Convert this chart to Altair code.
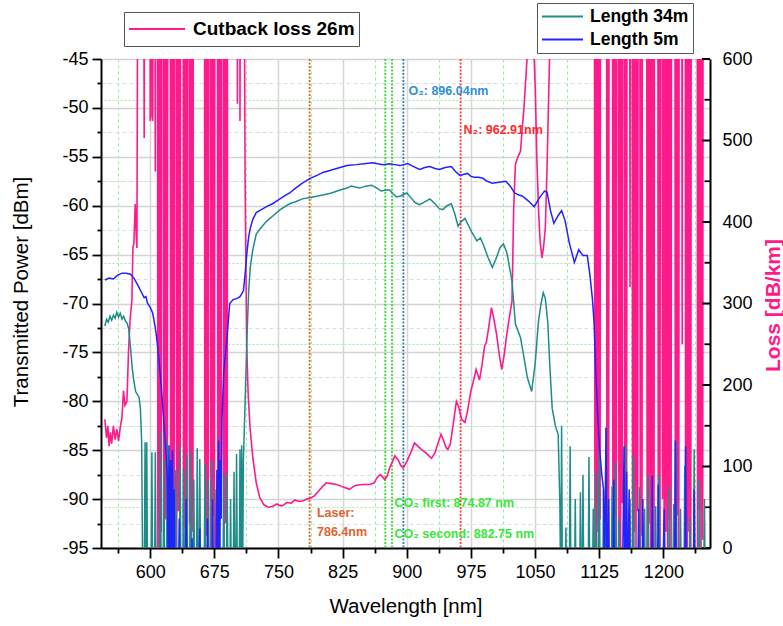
import altair as alt
import pandas as pd

FONT = "Liberation Sans, Arial, Helvetica, sans-serif"
PINK = "#ff1a8c"
TEAL = "#1e8c88"
BLUE = "#2222ff"

TRANS_SERIES = ["Length 34m", "Length 5m"]
LOSS_SERIES = ["Cutback loss 26m"]

# ---------------- Length 5m (blue), dBm ----------------
B5_A_WL = [547, 552, 557, 562, 567, 572, 577, 581, 586, 590, 593, 595, 597, 600, 603, 606, 608, 611, 613, 615, 617, 619]
B5_A_DB = [-67.6, -67.4, -67.5, -67.1, -66.9, -66.9, -67.0, -67.4, -68.2, -68.9, -69.4, -69.3, -70.0, -70.4, -71.0, -72.5, -73.8, -76.5, -78.5, -81.0, -83.4, -86.0]

B5_N1_WL = [620, 621, 622, 623, 624, 625, 626, 627, 628, 629, 633, 634, 635, 641, 642, 643, 648, 649, 650, 657, 658, 659,
            666, 667, 668, 672, 673, 674, 677, 678, 679, 680, 681, 682, 683, 684]
B5_N1_DB = [-88, -96, -84.5, -97, -86, -98, -85, -99, -89, -100, -100, -92, -100, -100, -90, -100, -100, -94, -100, -100, -93, -100,
            -100, -92, -100, -100, -90, -100, -100, -87, -100, -84, -98, -86, -92, -81.7]

B5_C_WL = [686, 689.5, 693, 697, 701, 705, 709, 711, 713, 715, 717, 720, 724, 730, 736, 743, 750, 757, 763, 770,
           778, 787, 795, 802, 810, 822, 830, 841, 850, 860, 866, 872, 880, 886, 892, 901, 908, 915, 921, 927,
           933, 938, 945, 952, 957, 962, 966, 971, 975, 979, 984, 989, 994, 1000, 1008, 1016, 1021, 1026, 1031, 1035,
           1042, 1049, 1055, 1061, 1064, 1068, 1072, 1077, 1081, 1085, 1090, 1096, 1101, 1106, 1111, 1114, 1117, 1119, 1121, 1123,
           1125, 1128, 1130]
B5_C_DB = [-77.0, -73.8, -70.0, -69.6, -69.5, -69.3, -68.7, -67.0, -64.9, -63.3, -62.3, -61.4, -60.7, -60.4, -60.1, -59.8, -59.4, -59.0, -58.7, -58.2,
           -57.7, -57.2, -56.9, -56.6, -56.4, -56.1, -55.9, -55.8, -55.7, -55.6, -55.7, -55.8, -55.7, -55.8, -55.9, -55.7, -56.0, -56.3, -56.1, -56.0,
           -56.2, -56.3, -56.1, -56.0, -56.5, -56.9, -56.8, -56.7, -57.0, -57.1, -57.1, -57.2, -57.5, -57.7, -57.6, -57.5, -58.0, -58.7, -58.9, -59.0,
           -59.5, -60.1, -59.2, -58.5, -58.6, -60.5, -61.8, -61.0, -60.5, -61.5, -63.8, -65.8, -64.5, -65.1, -65.1, -67.0, -69.5, -72.0, -77.0, -81.0,
           -84.4, -87.5, -89.0]

B5_N2_WL = [1131, 1133, 1134, 1136, 1137, 1141, 1142, 1143, 1152, 1154, 1155, 1157, 1158, 1160, 1161, 1170, 1171, 1172, 1175, 1176,
            1177, 1186, 1187, 1188, 1193, 1194, 1195, 1199, 1201, 1202, 1213, 1214, 1215, 1225, 1226, 1227, 1235, 1236, 1237, 1252]
B5_N2_DB = [-98, -82.7, -99, -90, -100, -100, -88, -100, -100, -84.6, -100, -87.2, -100, -89, -100, -100, -91, -100, -100, -90,
            -100, -100, -87.6, -100, -100, -88.5, -100, -100, -91, -100, -100, -84, -100, -100, -84.6, -100, -100, -89, -100, -100]

# ---------------- Length 34m (teal), dBm ----------------
T34_A_WL = [547, 549, 551, 553, 555, 557, 559, 561, 563, 565, 567, 569, 571, 573, 575, 577, 579, 581, 583, 585, 587, 588.5, 590, 591, 592]
T34_A_DB = [-72.3, -71.6, -71.9, -71.3, -71.7, -71.2, -71.5, -70.9, -71.4, -71.0, -71.6, -71.3, -71.8, -72.0, -72.6, -74.5, -76.6, -78.0, -79.0, -79.3,
            -79.6, -80.7, -84.0, -95.0, -100]

T34_N1_WL = [593, 594, 595, 596, 597,
             601, 602, 603, 605, 606, 607,
             611, 612, 613, 615, 616, 617,
             619, 620, 621, 622, 623,
             625, 626, 627, 629, 630, 631,
             634, 635, 636, 638, 639, 640,
             642, 643, 644, 646, 647, 648,
             650, 651, 652, 654, 655, 656, 657, 658, 659,
             663, 664, 665, 667, 668, 669,
             671, 672, 673, 676, 677, 678,
             680, 681, 682, 685, 686, 687,
             689, 690, 691, 693, 694, 695,
             697, 698, 699, 700, 701, 702,
             704, 705, 706, 707, 708, 709, 711, 713]
T34_N1_DB = [-100, -84.2, -100, -84.2, -100,
             -100, -85.2, -100, -100, -85.2, -100,
             -100, -83.0, -100, -100, -86.0, -100,
             -100, -84.0, -100, -88.0, -100,
             -100, -86.5, -100, -100, -87.0, -100,
             -100, -84.6, -100, -100, -87.0, -100,
             -100, -85.5, -100, -100, -85.0, -100,
             -100, -88.0, -100, -100, -84.8, -100, -100, -85.9, -100,
             -100, -86.4, -100, -100, -88.0, -100,
             -100, -86.0, -100, -100, -89.0, -100,
             -100, -87.0, -100, -100, -87.4, -100,
             -100, -87.4, -100, -100, -90.0, -100,
             -100, -87.2, -100, -100, -85.4, -100,
             -100, -84.9, -100, -84.5, -99.0, -86.0, -80.0, -73.8]

T34_C_WL = [715, 717, 720, 724, 730, 736, 744, 752, 763, 770, 778, 790, 802, 812, 822, 830, 835, 845, 852, 859,
            865, 870, 876, 880, 884, 888, 893, 900, 905, 910, 915, 921, 927, 933, 938, 942, 947, 952, 956, 960,
            964, 968, 972, 976, 982, 986, 990, 995, 1000, 1004, 1009, 1013, 1017, 1023, 1027, 1033, 1037, 1041, 1046, 1050,
            1054, 1057, 1059.6, 1062, 1065, 1067, 1070, 1073.7, 1077, 1079, 1080]
T34_C_DB = [-69.0, -66.3, -64.5, -62.9, -62.2, -61.6, -61.0, -60.4, -59.8, -59.6, -59.3, -59.1, -58.9, -58.7, -58.4, -58.2, -58.0, -58.2, -58.0, -57.9,
            -58.2, -58.5, -58.4, -58.4, -58.8, -59.1, -59.0, -58.7, -59.2, -59.7, -59.9, -59.6, -59.3, -59.8, -60.3, -60.4, -60.0, -59.8, -60.8, -62.1,
            -61.6, -61.3, -62.0, -62.7, -63.6, -63.3, -64.1, -65.3, -66.3, -65.5, -64.3, -63.9, -64.8, -67.7, -72.1, -73.5, -75.5, -77.6, -79.0, -76.2,
            -71.8, -70.0, -68.9, -69.5, -72.1, -76.0, -80.7, -82.5, -83.4, -90.5, -100]

T34_N2_WL = [1081, 1082,
             1085, 1086, 1087, 1090, 1091, 1092,
             1096, 1097, 1098, 1102, 1103, 1104, 1105, 1106, 1107,
             1112, 1113, 1114, 1117, 1118, 1119, 1120, 1121, 1122,
             1124, 1125, 1126, 1129, 1130, 1131, 1132, 1133, 1134,
             1139, 1140, 1141, 1143, 1144, 1145, 1147, 1148, 1149,
             1155, 1156, 1157, 1160, 1161, 1162, 1164, 1165, 1166,
             1171, 1172, 1173, 1177, 1178, 1179, 1181, 1182, 1183,
             1186, 1187, 1188, 1190, 1191, 1192, 1194, 1195, 1196,
             1200, 1201, 1202, 1206, 1207, 1208, 1211, 1212, 1213, 1214, 1215, 1216,
             1219, 1220, 1221, 1224, 1225, 1226, 1230, 1231, 1232,
             1235, 1236, 1237, 1241, 1242, 1243, 1247, 1248, 1249, 1252]
T34_N2_DB = [-82.5, -100,
             -100, -92.9, -100, -100, -84.6, -100,
             -100, -90.0, -100, -100, -89.3, -100, -100, -87.5, -100,
             -100, -85.7, -100, -100, -91.0, -100, -100, -87.2, -100,
             -100, -84.6, -100, -100, -89.0, -100, -100, -82.7, -100,
             -100, -88.7, -100, -100, -86.2, -100, -100, -92.0, -100,
             -100, -84.5, -100, -100, -90.0, -100, -100, -85.6, -100,
             -100, -88.8, -100, -100, -91.0, -100, -100, -87.6, -100,
             -100, -89.5, -100, -100, -90.7, -100, -100, -87.6, -100,
             -100, -92.0, -100, -100, -88.7, -100, -100, -90.5, -100, -100, -84.3, -100,
             -100, -91.0, -100, -100, -86.6, -100, -100, -92.0, -100,
             -100, -84.9, -100, -100, -88.0, -100, -100, -90.0, -100, -100]

# ---------------- Cutback loss 26m (pink), dB/km ----------------
LOSS_A_WL = [547, 549, 550.5, 552, 553.5, 555, 557, 559, 561, 563, 565, 567, 568.8, 570.5, 572.8, 574.7, 576.5, 578.6, 579.8, 581,
             582.5, 583.5, 584.5, 586]
LOSS_A = [158, 135, 150, 125, 142, 128, 150, 133, 146, 131, 148, 160, 193, 175, 180, 242, 280, 303, 368, 375,
          422, 390, 368, 950]

LOSS_N1_START = 587  # one reading per nm from 587 nm to 710 nm
LOSS_N1 = [1400, 820, 1300, 1100, 1600, 900, 503, 1200, 1500, 980, 610, 1300, 1700, 524, 530, 1400, 524, 1250, 1000, 462, 1300, 1800,
           -60, 1500, -40, 1800, 20, 1400, 1600, -90, 1600, 35, 1900, -70, 1300, 1500, 1800, -20, 1700, 10, 1500, -50,
           1600, 1800, -80, 2000, 45, 1400, -30, 1700, 1500, 1900, 25, 1500, -60, 1800, -40, 1600, 1300, 30, 1900, -70,
           1500, 20, 1800, 1200,
           1500, 1700, 1300, 1800, 1600, 1400, 1900, 1500, 1700, 1300, 1600,
           -40, 1700, 15, 1500, -70, 1900, 1400, -30, 1600, 40, 1800, -60, 1300, 1500, 1700, 20, 1700, -80, 1500, 55,
           1800, 1600, -20, 1600, 30, 1400, -50, 1700,
           1500, 1800, 1400, 1600, 1900, 1300, 1700, 1500, 1600,
           1300, 545, 1200, 1500, 524, 1100, 1400, 1600, 1000, 700]

LOSS_C_WL = [711, 712.8, 714.5, 716.7, 720, 724, 728, 733, 738, 743,
             748, 752, 755, 760, 765, 769, 774, 779, 783, 787,
             792, 797, 802, 806, 812, 818, 825, 833, 837, 841,
             848, 857, 862, 865, 869, 872, 874, 877, 880, 883,
             886, 890, 893, 896, 900, 905, 909, 913, 917, 922,
             926, 929, 933, 937, 940, 943, 946, 948, 951, 954,
             958, 961, 964, 968, 971, 975, 978, 981, 985, 988,
             991, 993, 996, 999, 1002, 1005, 1008, 1011, 1014, 1017,
             1021, 1023, 1024, 1025, 1027, 1030, 1033, 1035, 1037, 1040.6,
             1043, 1046, 1048.3, 1050.3, 1052, 1054.2, 1056, 1058.1, 1060, 1062,
             1064, 1066, 1068, 1071, 1080, 1090, 1100, 1110, 1116]
LOSS_C = [450, 250, 190, 148, 111, 80, 62, 53, 50, 51,
          54, 52, 52, 56, 55, 59, 57, 58, 60, 61,
          64, 70, 76, 80, 79, 78, 75, 72, 75, 77,
          78, 78, 80, 86, 90, 87, 84, 88, 98.5, 105,
          113, 108, 101, 98.5, 106, 118, 129, 125, 121, 117,
          113, 110, 117, 130, 139.5, 132, 123, 121, 128, 150,
          180, 172, 158, 154, 168, 193, 205, 219, 206, 225,
          248, 252, 272, 295, 280, 262, 238, 219, 238, 263,
          290, 303, 360, 417, 471, 480, 487, 515, 540, 600,
          700, 700, 620, 561, 480, 410, 375, 356, 370, 393,
          467, 560, 650, 900, 1200, 1500, 1300, 1100, 1400]

LOSS_N2_START = 1117  # one reading per nm from 1117 nm to 1252 nm
LOSS_N2 = [1400, 1600, 1200, -40, 1700, 20, 1500, -60, 1800, 35,
           1500, 1600, 1400, 1700, 1300, 1500, 1800, 25, 1600, -50,
           1500, 1700, 1400, 1600, -30, 1900, 40, 1500, -70, 1600,
           1800, 10, 1700, -20, 1500, 55, 1400, 1600, -80, 1800,
           30, 1500, 1700, 1400, 320, 1600, 1800, -40, 1500, 20,
           1900, -60, 1400, 45, 1600, 1500, -30, 1700, 15, 1800,
           1500, 1600, 1400, 1700, -50, 1600, 30, 1900, -20, 1500,
           50, 1700, -70, 1400, 1600, 1800, 1500, 25, 1700, -40,
           1600, 1400, 60, 1800, -30, 1500, 20, 1900, -60, 1600,
           35, 1700, -20, 1500, 1800, 1400, 1600, -50, 1700, 40,
           1500, -70, 1900, 1600, 1400, 250, 1800, 1500, 1700, 30,
           1600, -40, 1500, 20, 1800, -60, 1400, 1700, 1500, 1900,
           1600, 1400, 1800, -30, 1600, 45, 1500, -50, 1700, 10,
           1900, 1500, 1600, 1400, 1700, 1500]

# ---------------- annotations ----------------
ANNOT_WL = [786.4, 874.87, 882.75, 896.04, 962.91]
ANNOT_COLOR = ["#d2691e", "#33dd33", "#33dd33", "#2a7fc4", "#ff3b3b"]

LAB_TEXT = ["O\u2082: 896.04nm", "N\u2082: 962.91nm", "Laser:", "786.4nm",
            "CO\u2082 first: 874.87 nm", "CO\u2082 second: 882.75 nm"]
LAB_WL = [902, 966.4, 795, 795, 885.7, 885.7]
LAB_DB = [-48.25, -52.25, -91.45, -93.35, -90.4, -93.6]
LAB_COLOR = ["#3190d8", "#ff2b2b", "#e2622e", "#e2622e", "#39e639", "#39e639"]

# ---------------- ticks ----------------
X_TICKS = [562.5, 600, 637.5, 675, 712.5, 750, 787.5, 825, 862.5, 900, 937.5, 975, 1012.5, 1050, 1087.5, 1125, 1162.5, 1200, 1237.5]
Y_TICKS = [-95, -92.5, -90, -87.5, -85, -82.5, -80, -77.5, -75, -72.5, -70, -67.5, -65, -62.5, -60, -57.5, -55, -52.5, -50, -47.5, -45]
R_TICKS = [0, 50, 100, 150, 200, 250, 300, 350, 400, 450, 500, 550, 600]
R_MAJOR = [0, 100, 200, 300, 400, 500, 600]
R_MINOR = [50, 150, 250, 350, 450, 550]

# ---------------- tables ----------------
t_wl = T34_A_WL + T34_N1_WL + T34_C_WL + T34_N2_WL
t_db = T34_A_DB + T34_N1_DB + T34_C_DB + T34_N2_DB
b_wl = B5_A_WL + B5_N1_WL + B5_C_WL + B5_N2_WL
b_db = B5_A_DB + B5_N1_DB + B5_C_DB + B5_N2_DB
trans_df = pd.DataFrame({
    "wl": t_wl + b_wl,
    "db": t_db + b_db,
    "series": [TRANS_SERIES[0]] * len(t_wl) + [TRANS_SERIES[1]] * len(b_wl),
})
loss_wl = (LOSS_A_WL + list(range(LOSS_N1_START, LOSS_N1_START + len(LOSS_N1)))
           + LOSS_C_WL + list(range(LOSS_N2_START, LOSS_N2_START + len(LOSS_N2))))
loss_df = pd.DataFrame({"wl": loss_wl, "loss": LOSS_A + LOSS_N1 + LOSS_C + LOSS_N2, "series": LOSS_SERIES[0]})
annot_df = pd.DataFrame({"wl": ANNOT_WL, "color": ANNOT_COLOR})
lab_df = pd.DataFrame({"wl": LAB_WL, "db": LAB_DB, "label": LAB_TEXT, "color": LAB_COLOR})
rmaj_df = pd.DataFrame({"v": R_MAJOR})
rmin_df = pd.DataFrame({"v": R_MINOR})

W, H = 609, 489

xscale = alt.Scale(domain=[542.5, 1254.5], nice=False, zero=False)
lscale = alt.Scale(domain=[-95, -45], nice=False, zero=False)
rscale = alt.Scale(domain=[0, 600], nice=False, zero=False)

XMAJ = "datum.value % 75 == 0"
YMAJ = "datum.value % 5 == 0"
RMAJ = "datum.value % 100 == 0"

xaxis = alt.Axis(
    values=X_TICKS,
    labelExpr="datum.value % 75 == 0 ? '' + datum.value : ''",
    labelOverlap=False, labelFlush=False,
    labelFont=FONT, labelFontSize=18, labelColor="black", labelPadding=5,
    title="Wavelength [nm]", titleFont=FONT, titleFontSize=20.5, titleFontWeight="normal",
    titleColor="black", titleX=W / 2, titleY=58, titleBaseline="middle", titleAlign="center",
    domainColor="black", domainWidth=2, tickColor="black", tickWidth=1.8,
    tickSize={"condition": {"test": XMAJ, "value": 10}, "value": 5},
    grid=True,
    gridColor={"condition": {"test": XMAJ, "value": "#d6d6d6"}, "value": "#9ee89e"},
    gridDash={"condition": {"test": XMAJ, "value": []}, "value": [3, 3]},
    gridWidth={"condition": {"test": XMAJ, "value": 1.5}, "value": 1},
)
lyaxis = alt.Axis(
    values=Y_TICKS,
    labelExpr="datum.value % 5 == 0 ? '' + datum.value : ''",
    labelOverlap=False, labelFlush=False,
    labelFont=FONT, labelFontSize=18, labelColor="black", labelPadding=4,
    title="Transmitted Power [dBm]", titleFont=FONT, titleFontSize=20.5, titleFontWeight="normal",
    titleColor="black", titleAngle=270, titleX=-80, titleY=232.5, titleBaseline="middle", titleAlign="center",
    domainColor="black", domainWidth=2, tickColor="black", tickWidth=1.8,
    tickSize={"condition": {"test": YMAJ, "value": 9}, "value": 4},
    grid=True,
    gridColor={"condition": {"test": YMAJ, "value": "#d4d4d4"}, "value": "#dedede"},
    gridDash={"condition": {"test": YMAJ, "value": []}, "value": [4, 3]},
    gridWidth={"condition": {"test": YMAJ, "value": 1.5}, "value": 1},
)
ryaxis = alt.Axis(
    orient="right", values=R_TICKS,
    labelExpr="datum.value % 100 == 0 ? '' + datum.value : ''",
    labelOverlap=False, labelFlush=False,
    labelFont=FONT, labelFontSize=18, labelColor="black", labelPadding=12,
    ticks=False, tickSize=0,
    title="Loss [dB/km]", titleFont=FONT, titleFontSize=21, titleFontWeight="bold",
    titleColor=PINK, titleAngle=270, titleX=63, titleY=246, titleBaseline="middle", titleAlign="center",
    domainColor="black", domainWidth=2,
    grid=True, gridColor="#a4eca4", gridDash=[2, 2], gridWidth=1,
    gridOpacity={"condition": {"test": RMAJ, "value": 0}, "value": 1},
)


def X():
    return alt.X("wl:Q", scale=xscale, axis=xaxis)


annot = alt.Chart(annot_df).mark_rule(strokeWidth=1.8, strokeDash=[2, 1.5]).encode(
    x=X(), color=alt.Color("color:N", scale=None)
)

pink_line = alt.Chart(loss_df).mark_line(clip=True, strokeWidth=1.6).encode(
    x=X(),
    y=alt.Y("loss:Q", scale=rscale, axis=ryaxis),
    color=alt.Color(
        "series:N",
        scale=alt.Scale(domain=LOSS_SERIES, range=[PINK]),
        legend=alt.Legend(
            orient="none", legendX=23, legendY=-47, title=None, direction="vertical",
            symbolType="stroke", symbolSize=3136, symbolStrokeWidth=2,
            labelFont=FONT, labelFontSize=19, labelFontWeight="bold", labelColor="black", labelLimit=400,
            strokeColor="#555555", fillColor="white", padding=4, labelOffset=7, clipHeight=26,
        ),
    ),
)
rt_major = alt.Chart(rmaj_df).mark_rule(color="black", strokeWidth=2).encode(
    y=alt.Y("v:Q", scale=rscale, axis=ryaxis), x=alt.value(W - 8), x2=alt.value(W)
)
rt_minor = alt.Chart(rmin_df).mark_rule(color="black", strokeWidth=1.8).encode(
    y=alt.Y("v:Q", scale=rscale, axis=ryaxis), x=alt.value(W - 5.5), x2=alt.value(W)
)
pink_group = alt.layer(pink_line, rt_major, rt_minor)

lines = alt.Chart(trans_df).mark_line(clip=True, strokeWidth=1.5).encode(
    x=X(),
    y=alt.Y("db:Q", scale=lscale, axis=lyaxis),
    color=alt.Color(
        "series:N",
        scale=alt.Scale(domain=TRANS_SERIES, range=[TEAL, BLUE]),
        legend=alt.Legend(
            orient="none", legendX=436, legendY=-56, title=None, direction="vertical",
            symbolType="stroke", symbolSize=1681, symbolStrokeWidth=2,
            labelFont=FONT, labelFontSize=17.5, labelFontWeight="bold", labelColor="black", labelLimit=400,
            strokeColor="#555555", fillColor="white", padding=4, labelOffset=6, rowPadding=4, clipHeight=19,
        ),
    ),
)
texts = alt.Chart(lab_df).mark_text(
    align="left", baseline="middle", font=FONT, fontSize=12.5, fontWeight="bold"
).encode(
    x=X(), y=alt.Y("db:Q", scale=lscale, axis=lyaxis), text="label:N",
    color=alt.Color("color:N", scale=None),
)
front = alt.layer(lines, texts)

chart = (
    alt.layer(annot, pink_group, front)
    .resolve_scale(y="independent", color="independent")
    .properties(
        width=W, height=H,
        autosize=alt.AutoSizeParams(type="none"),
        padding={"left": 101, "top": 59, "right": 783 - 101 - W, "bottom": 626 - 59 - H},
        background="white",
    )
    .configure_view(strokeWidth=0)
)

chart.save("out.html", embed_options={"renderer": "svg", "actions": False})
